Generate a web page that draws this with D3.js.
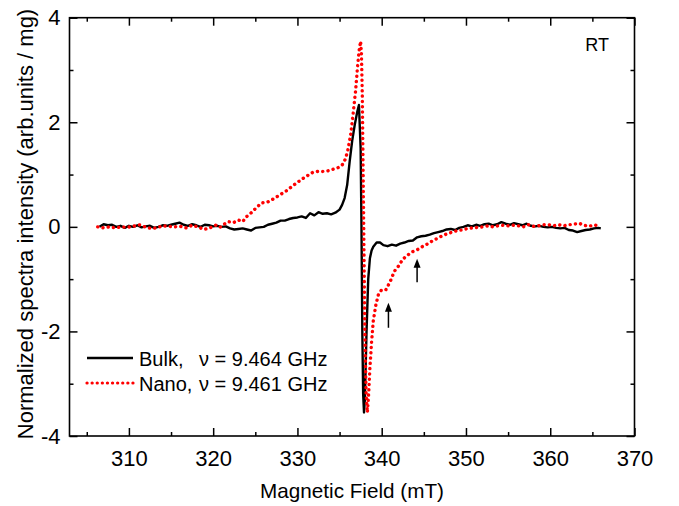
<!DOCTYPE html>
<html><head><meta charset="utf-8">
<script src="https://cdn.jsdelivr.net/npm/d3@7"></script>
<style>body{margin:0;background:#fff}text{font-family:"Liberation Sans",Arial,sans-serif}</style>
</head><body><svg id="c" width="679" height="506"></svg>
<script>
const bulkField=[306.5,307,307.5,308,308.5,309,309.5,310,310.5,311,311.5,312,312.5,313,313.5,314,314.5,315,315.5,316,316.5,317,317.5,318,318.5,319,319.5,320,320.5,321,321.5,322,322.5,323,323.5,324,324.5,325,325.5,326,326.5,327,327.5,328,328.5,329,329.5,330,330.5,331,331.5,332,332.5,333,333.5,334,334.5,335,335.3,335.6,335.9,336.2,336.5,336.8,337.1,337.3,337.5,337.6,337.7,337.8,337.9,338.0,338.2,338.4,338.6,338.8,339.0,339.4,339.8,340.2,340.7,341.2,341.7,342.2,342.7,343.2,343.7,344.2,344.7,345.2,345.7,346.2,346.7,347.2,347.7,348.2,348.7,349.2,349.7,350.2,350.7,351.2,351.7,352.2,352.7,353.2,353.7,354.2,354.7,355.2,355.7,356.2,356.7,357.2,357.7,358.2,358.7,359.2,359.7,360.2,360.7,361.2,361.7,362.2,362.7,363.2,363.7,364.2,364.7,365.2,365.7,366.0];
const bulkSignal=[0.0,0.05,0.03,0.04,0.0,0.02,-0.02,0.02,0.0,0.03,-0.01,0.01,0.02,-0.02,0.0,0.03,0.02,0.04,0.06,0.08,0.04,0.02,0.05,0.03,0.0,0.04,0.03,0.01,0.02,0.0,0.01,-0.03,-0.05,-0.04,-0.03,-0.05,-0.07,-0.02,-0.01,0.0,0.04,0.06,0.08,0.12,0.12,0.15,0.17,0.18,0.2,0.17,0.26,0.22,0.28,0.25,0.26,0.24,0.27,0.33,0.42,0.55,0.8,1.25,1.65,1.95,2.2,2.33,1.5,0.0,-2.0,-3.2,-3.55,-3.3,-2.0,-1.0,-0.6,-0.45,-0.38,-0.3,-0.3,-0.35,-0.37,-0.34,-0.36,-0.32,-0.3,-0.27,-0.26,-0.2,-0.18,-0.17,-0.15,-0.12,-0.1,-0.08,-0.05,-0.04,-0.06,-0.02,0.0,0.03,0.01,0.04,0.02,0.05,0.06,0.03,0.05,0.09,0.06,0.04,0.07,0.05,0.03,0.06,0.02,0.01,0.02,0.0,-0.01,0.0,-0.02,-0.03,-0.02,-0.06,-0.07,-0.1,-0.08,-0.06,-0.05,-0.03,-0.02,-0.03];
const nanoField=[306.3,307,307.7,308.4,309.1,309.8,310.5,311.2,311.9,312.6,313.3,314,314.7,315.4,316.1,316.8,317.5,318.2,318.9,319.6,320.3,320.8,321.3,321.8,322.4,323,323.5,324,324.6,325.2,325.8,326.4,327,327.6,328.2,328.8,329.4,330,330.6,331.2,331.8,332.4,333,333.6,334.2,334.8,335.3,335.7,336.0,336.3,336.6,336.9,337.1,337.3,337.5,337.6,337.7,337.8,337.9,338.0,338.15,338.3,338.45,338.6,338.8,339.0,339.3,339.6,340.0,340.5,341.0,341.5,342.0,342.5,343.0,343.6,344.2,344.8,345.4,346,346.6,347.2,347.8,348.4,349,349.6,350.2,350.8,351.4,352,352.6,353.2,353.8,354.4,355,355.6,356.2,356.8,357.4,358,358.6,359.2,359.8,360.4,361,361.6,362.2,362.8,363.4,364,364.6,365.3,365.8];
const nanoSignal=[0.0,-0.02,0.0,-0.02,0.0,-0.01,0.01,0.04,0.0,-0.03,-0.02,0.02,0.01,0.0,0.01,-0.02,0.03,0.0,-0.05,-0.02,0.03,-0.01,0.05,0.1,0.08,0.13,0.1,0.2,0.28,0.38,0.46,0.47,0.52,0.58,0.64,0.7,0.78,0.85,0.92,0.98,1.04,1.06,1.06,1.07,1.1,1.13,1.18,1.3,1.48,1.75,2.15,2.6,3.0,3.35,3.55,3.3,2.5,1.0,-0.5,-2.0,-3.2,-3.55,-3.2,-2.7,-2.2,-1.8,-1.5,-1.3,-1.2,-1.2,-1.05,-0.85,-0.75,-0.62,-0.55,-0.48,-0.44,-0.38,-0.33,-0.27,-0.22,-0.17,-0.13,-0.1,-0.07,-0.06,-0.03,-0.02,-0.01,0.0,0.02,0.0,0.02,0.03,0.02,0.03,0.02,0.0,0.04,0.01,0.02,0.04,0.04,0.02,0.04,0.02,0.04,0.05,0.07,0.03,0.01,0.04,0.0];
const xTicks=[310,320,330,340,350,360,370];
const xMinor=[305,315,325,335,345,355,365];
const yTicks=[-4,-2,0,2,4];
const yMinor=[-3,-1,1,3];
const arrows=[{x:340.8,y0:-1.93,y1:-1.45},{x:344.2,y0:-1.06,y1:-0.61}];
const legendNames=["Bulk,","Nano,"];
const legendFreq=["\u03bd = 9.464 GHz","\u03bd = 9.461 GHz"];

const svg=d3.select("#c");
const L=69.5,R=634.5,T=17.7,B=436;
const x=d3.scaleLinear().domain([302.95,370]).range([L,R]);
const y=d3.scaleLinear().domain([-4,4]).range([B,T]);
const tfs=22;

svg.append("g").attr("transform",`translate(0,${B})`).call(d3.axisBottom(x).tickValues(xTicks).tickSize(-8).tickPadding(14).tickFormat(d=>String(d)));
svg.append("g").attr("transform",`translate(0,${B})`).call(d3.axisBottom(x).tickValues(xMinor).tickSize(-4).tickFormat(""));
svg.append("g").attr("transform",`translate(0,${T})`).call(d3.axisTop(x).tickValues(xTicks).tickSize(-8).tickFormat(""));
svg.append("g").attr("transform",`translate(0,${T})`).call(d3.axisTop(x).tickValues(xMinor).tickSize(-4).tickFormat(""));
svg.append("g").attr("transform",`translate(${L},0)`).call(d3.axisLeft(y).tickValues(yTicks).tickSize(-8).tickPadding(9).tickFormat(d=>String(d)));
svg.append("g").attr("transform",`translate(${L},0)`).call(d3.axisLeft(y).tickValues(yMinor).tickSize(-4).tickFormat(""));
svg.append("g").attr("transform",`translate(${R},0)`).call(d3.axisRight(y).tickValues(yTicks).tickSize(-8).tickFormat(""));
svg.append("g").attr("transform",`translate(${R},0)`).call(d3.axisRight(y).tickValues(yMinor).tickSize(-4).tickFormat(""));
svg.selectAll(".domain").remove();
svg.selectAll(".tick line").attr("stroke","#000").attr("stroke-width",1.5);
svg.selectAll(".tick text").attr("font-size",tfs).attr("fill","#000").style("font-family","'Liberation Sans',Arial,sans-serif");
svg.append("rect").attr("x",L).attr("y",T).attr("width",R-L).attr("height",B-T).attr("fill","none").attr("stroke","#000").attr("stroke-width",1.6);

const line=d3.line().x(d=>x(d[0])).y(d=>y(d[1]));
const bulk=bulkField.map((f,i)=>[f,bulkSignal[i]]);
const nano=nanoField.map((f,i)=>[f,nanoSignal[i]]);
svg.append("path").attr("d",line(bulk)).attr("fill","none").attr("stroke","#000").attr("stroke-width",2.4).attr("stroke-linejoin","round");
svg.append("path").attr("d",line(nano)).attr("fill","none").attr("stroke","#ff0000").attr("stroke-width",3.4).attr("stroke-dasharray","0.1,5.2").attr("stroke-linecap","round");

arrows.forEach(a=>{
  svg.append("line").attr("x1",x(a.x)).attr("x2",x(a.x)).attr("y1",y(a.y0)).attr("y2",y(a.y1)+3).attr("stroke","#000").attr("stroke-width",1.5);
  svg.append("path").attr("d",`M${x(a.x)-3.5},${y(a.y1)+9} L${x(a.x)},${y(a.y1)} L${x(a.x)+3.5},${y(a.y1)+9} Z`).attr("fill","#000");
});

svg.append("text").attr("x",(L+R)/2).attr("y",498).attr("text-anchor","middle").attr("font-size",20.7).text("Magnetic Field (mT)");
svg.append("text").attr("transform",`translate(33,224) rotate(-90)`).attr("text-anchor","middle").attr("font-size",22).text("Normalized spectra intensity (arb.units / mg)");
svg.append("text").attr("x",609).attr("y",51).attr("text-anchor","end").attr("font-size",18).text("RT");

const lgY=[358,383];
legendNames.forEach((n,i)=>{
  const ly=lgY[i];
  const l=svg.append("line").attr("x1",87).attr("x2",133).attr("y1",ly).attr("y2",ly);
  if(i===0) l.attr("stroke","#000").attr("stroke-width",2.4);
  else l.attr("stroke","#ff0000").attr("stroke-width",3.2).attr("stroke-dasharray","0.1,5").attr("stroke-linecap","round");
  svg.append("text").attr("x",139).attr("y",ly+8).attr("font-size",20).text(n);
  svg.append("text").attr("x",199).attr("y",ly+8).attr("font-size",20).text(legendFreq[i]);
});
</script></body></html>
